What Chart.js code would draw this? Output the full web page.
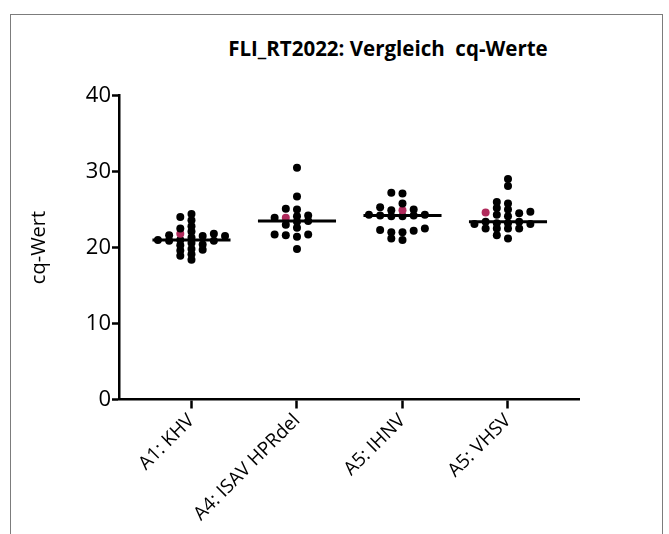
<!DOCTYPE html>
<html lang="de">
<head>
<meta charset="utf-8">
<title>FLI_RT2022: Vergleich cq-Werte</title>
<script src="https://cdn.jsdelivr.net/npm/chart.js@4.4.1/dist/chart.umd.min.js"></script>
<style>
  html, body { margin: 0; padding: 0; background: #fff; }
  #rahmen { position: relative; width: 669px; height: 534px; overflow: hidden; }
  #rahmen::before {
    content: ''; position: absolute; left: 10px; top: 14px;
    width: 653px; height: 560px; border: 1.5px solid #7c7c7c; box-sizing: border-box;
  }
  #titel {
    position: absolute; left: 188px; top: 36px; width: 400px; text-align: center;
    font: bold 20.5px 'Open Sans', sans-serif; line-height: 24px; color: #000;
  }
  canvas { position: absolute; left: 0; top: 0; }
</style>
</head>
<body>
<div id="rahmen">
  <div id="titel">FLI_RT2022: Vergleich&nbsp; cq-Werte</div>
  <canvas id="grafik" width="669" height="534"></canvas>
</div>
<script>
/* =========================================================
   DATEN
========================================================= */

const kategorien = ['A1: KHV', 'A4: ISAV HPRdel', 'A5: IHNV', 'A5: VHSV'];

const werteKHV = [
  22.5, 21.6, 20.4, 21.8, 21.0, 24.0, 22.1, 21.3, 19.7, 20.6, 19.8, 19.1, 18.4,
  24.4, 23.6, 22.8, 21.8, 21.0, 20.3, 19.6, 18.9, 21.5, 20.9, 21.5, 20.9
];
const werteISAV = [
  30.5, 26.7, 25.1, 25.0, 24.2, 24.1, 23.9, 23.9, 23.5, 23.4, 23.0, 22.6,
  21.7, 21.7, 21.6, 21.4, 19.8
];
const werteIHNV = [
  27.2, 27.1, 25.8, 25.3, 25.0, 24.9, 24.9, 24.3, 24.3, 24.2, 24.2, 24.1,
  24.1, 22.5, 22.3, 22.2, 22.0, 22.0, 21.2, 21.0
];
const werteVHSV = [
  29.0, 28.1, 26.0, 25.8, 25.2, 25.0, 24.7, 24.6, 24.5, 24.3, 24.1, 23.4,
  23.4, 23.2, 23.2, 23.1, 23.1, 22.5, 22.5, 22.5, 22.5, 21.6, 21.2
];

// der farbig markierte Wert je Gruppe
const markiert = [21.8, 23.9, 24.9, 24.6];

const yTicks = [0, 10, 20, 30, 40];

const gruppen = [werteKHV, werteISAV, werteIHNV, werteVHSV];


/* =========================================================
   DARSTELLUNG
========================================================= */

const SCHWARZ = '#000000';
const ROT = '#b02a5b';
const SPALTE_X = 0.106;   // horizontaler Abstand der Punkte (Kategorie-Einheiten)
const ABSTAND_Y = 0.68;   // minimaler vertikaler Abstand in einer Spalte
const LINIE_HALB = 0.37;  // halbe Breite der Medianlinie


/* =========================================================
   HILFSFUNKTIONEN
========================================================= */

function median(werte) {
  const s = [...werte].sort((a, b) => a - b);
  const m = Math.floor(s.length / 2);
  return s.length % 2 ? s[m] : (s[m - 1] + s[m]) / 2;
}

// einfache Beeswarm-Anordnung: Punkte mit ähnlichem Wert nebeneinander
function anordnen(werte, mitte) {
  const sortiert = [...werte].sort((a, b) => a - b);
  const platziert = [];

  sortiert.forEach(wert => {
    for (let k = 0; k < 30; k++) {
      const spalte = k === 0 ? 0 : (k % 2 ? -Math.ceil(k / 2) : k / 2);
      const frei = platziert.every(p => p.spalte !== spalte || Math.abs(p.y - wert) >= ABSTAND_Y);
      if (frei) {
        platziert.push({ spalte, y: wert });
        break;
      }
    }
  });

  return platziert.map(p => ({ x: mitte + p.spalte * SPALTE_X, y: p.y }));
}


/* =========================================================
   DATENSÄTZE
========================================================= */

const datensaetze = [];

gruppen.forEach((werte, i) => {
  const punkte = anordnen(werte, i);

  let rotGesetzt = false;
  const farben = punkte.map(p => {
    if (!rotGesetzt && p.y === markiert[i]) {
      rotGesetzt = true;
      return ROT;
    }
    return SCHWARZ;
  });

  datensaetze.push({
    label: kategorien[i],
    data: punkte,
    pointRadius: 4,
    pointHoverRadius: 4,
    pointBackgroundColor: farben,
    pointBorderWidth: 0,
    order: 2
  });

  const med = median(werte);
  datensaetze.push({
    label: 'Median ' + kategorien[i],
    data: [{ x: i - LINIE_HALB, y: med }, { x: i + LINIE_HALB, y: med }],
    showLine: true,
    borderColor: SCHWARZ,
    borderWidth: 3,
    pointRadius: 0,
    order: 1
  });
});


/* =========================================================
   GRAFIK
========================================================= */

new Chart(document.getElementById('grafik'), {
  type: 'scatter',
  data: { datasets: datensaetze },
  options: {
    responsive: false,
    animation: false,
    layout: { padding: { top: 95.5, right: 90, left: 0, bottom: 0 } },
    plugins: {
      legend: { display: false },
      tooltip: { enabled: false }
    },
    scales: {
      x: {
        type: 'linear',
        min: -0.687,
        max: 3.673,
        afterBuildTicks: s => { s.ticks = kategorien.map((k, i) => ({ value: i })); },
        afterFit: s => { s.height = 534 - 399.5; },
        ticks: {
          autoSkip: false,
          minRotation: 45,
          maxRotation: 45,
          padding: 1,
          color: SCHWARZ,
          font: { family: "'Open Sans', sans-serif", size: 19 },
          callback: v => kategorien[v]
        },
        grid: {
          drawOnChartArea: false,
          drawTicks: true,
          tickLength: 9,
          tickWidth: 2.5,
          color: SCHWARZ
        },
        border: { color: SCHWARZ, width: 2.5 }
      },
      y: {
        min: 0,
        max: 40,
        afterBuildTicks: s => { s.ticks = yTicks.map(v => ({ value: v })); },
        afterFit: s => { s.width = 119; },
        ticks: {
          padding: 1,
          color: SCHWARZ,
          font: { family: "'Open Sans', sans-serif", size: 22 }
        },
        grid: {
          drawOnChartArea: false,
          drawTicks: true,
          tickLength: 7,
          tickWidth: 2.5,
          color: SCHWARZ
        },
        border: { color: SCHWARZ, width: 2.5 },
        title: {
          display: true,
          text: 'cq-Wert',
          color: SCHWARZ,
          font: { family: "'Open Sans', sans-serif", size: 20 },
          padding: { top: 27, bottom: 0 }
        }
      }
    }
  }
});
</script>
</body>
</html>
